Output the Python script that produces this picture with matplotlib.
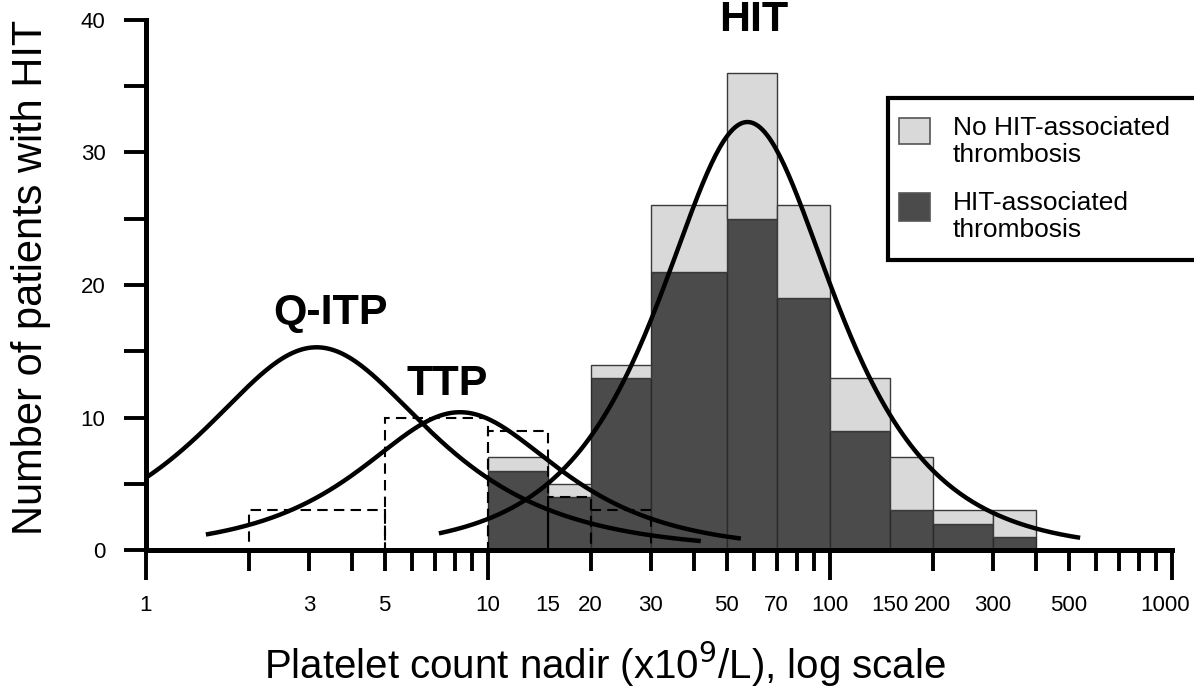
import numpy as np
import matplotlib
matplotlib.use('Agg')
import matplotlib.pyplot as plt
from matplotlib.patches import Rectangle

plt.rcParams['font.family'] = ['Liberation Sans', 'DejaVu Sans']

# HIT histogram (platelet count nadir bins, x10^9/L)
bin_edges = [10, 15, 20, 30, 50, 70, 100, 150, 200, 300, 400]
with_thrombosis = [6, 4, 13, 21, 25, 19, 9, 3, 2, 1]
without_thrombosis = [1, 1, 1, 5, 11, 7, 4, 4, 1, 2]

# TTP histogram (dashed outline)
ttp_edges = [2, 5, 10, 15, 20, 30]
ttp_counts = [3, 10, 9, 4, 3]

# fitted curves: name, peak height, peak position, width (log10 units), x range
curve_names = ['Q-ITP', 'TTP', 'HIT']
curve_peak = [15.3, 10.4, 32.3]
curve_center = [3.16, 8.3, 57.5]
curve_width = [0.295, 0.2585, 0.229]
curve_from = [1.0, 1.5, 7.2]
curve_to = [42, 55, 540]
label_pos = [(3.47, 17.9), (7.62, 12.5), (60, 40.0)]

major_x = [1, 10, 100, 1000]
major_labels = ['1', '10', '100', '']
minor_x = [2, 3, 4, 5, 6, 7, 8, 9, 15, 20, 30, 40, 50, 60, 70, 80, 90,
           150, 200, 300, 400, 500, 600, 700, 800, 900]
minor_labels = ['', '3', '', '5', '', '', '', '', '15', '20', '30', '', '50', '', '70', '', '',
                '150', '200', '300', '', '500', '', '', '', '']
untick_x = [15, 150]

light = '#d9d9d9'
dark = '#4b4b4b'


def sech_curve(x, peak, center, width):
    u = (np.log10(x) - np.log10(center)) / width
    return peak / np.cosh(u)


fig = plt.figure(figsize=(11.94, 6.89), dpi=100)
ax = fig.add_axes([0.122, 0.2017, 0.8593, 0.7693])
ax.set_xscale('log')

left = np.array(bin_edges[:-1])
widths = np.diff(bin_edges)
ax.bar(left, with_thrombosis, width=widths, align='edge', color=dark,
       edgecolor='#2a2a2a', linewidth=1, zorder=2)
ax.bar(left, without_thrombosis, width=widths, bottom=with_thrombosis, align='edge',
       color=light, edgecolor='#3a3a3a', linewidth=1, zorder=2)

ax.bar(ttp_edges[:-1], ttp_counts, width=np.diff(ttp_edges), align='edge',
       fill=False, edgecolor='black', linewidth=1.5, linestyle=(0, (5, 3)), zorder=3)

for i, name in enumerate(curve_names):
    xs = np.logspace(np.log10(curve_from[i]), np.log10(curve_to[i]), 300)
    ax.plot(xs, sech_curve(xs, curve_peak[i], curve_center[i], curve_width[i]),
            color='black', linewidth=3.2, solid_capstyle='butt', zorder=4)
    ax.text(label_pos[i][0], label_pos[i][1], name, fontsize=31, fontweight='bold',
            ha='center', va='center', zorder=5, clip_on=False)

ax.set_xlim(1, 1000)
ax.set_ylim(0, 40)
for s in ['top', 'right']:
    ax.spines[s].set_visible(False)
for s in ['left', 'bottom']:
    ax.spines[s].set_linewidth(3.6)

ax.set_xticks(major_x)
ax.set_xticklabels(major_labels)
ax.set_xticks(minor_x, minor=True)
ax.set_xticklabels(minor_labels, minor=True)
ax.tick_params(axis='x', which='major', direction='out', length=21.6, width=2.8,
               pad=11, labelsize=16)
ax.tick_params(axis='x', which='minor', direction='out', length=15.1, width=2.8,
               pad=17.4, labelsize=16)
for t in ax.xaxis.get_minor_ticks():
    if t.get_loc() in untick_x:
        t.tick1line.set_markersize(0)
# last label sits a little left of its tick, as in the original
ax.annotate('1000', xy=(major_x[-1], 0), xycoords=('data', 'axes fraction'),
            xytext=(-5, -32.6), textcoords='offset points',
            ha='center', va='top', fontsize=16, annotation_clip=False)

ax.set_yticks([0, 10, 20, 30, 40])
ax.set_yticks([5, 15, 25, 35], minor=True)
ax.tick_params(axis='y', which='both', direction='out', length=16, width=2.8,
               pad=13, labelsize=16)

ax.set_xlabel('Platelet count nadir (x10$^{9}$/L), log scale', fontsize=29)
ax.xaxis.set_label_coords(0.448, -0.17)
ax.set_ylabel('Number of patients with HIT', fontsize=30)
ax.yaxis.set_label_coords(-0.092, 0.515)

# legend box, drawn by hand so the swatches line up with the first text line
W, H = 1194.0, 689.0
fig.patches.append(Rectangle((888 / W, 1 - 260 / H), 330 / W, 162 / H,
                             transform=fig.transFigure, facecolor='white',
                             edgecolor='black', linewidth=3, clip_on=False))
fig.patches.append(Rectangle((899 / W, 1 - 144 / H), 31 / W, 26 / H,
                             transform=fig.transFigure, facecolor=light,
                             edgecolor='#555555', linewidth=1.2))
fig.patches.append(Rectangle((899 / W, 1 - 221 / H), 31 / W, 28 / H,
                             transform=fig.transFigure, facecolor=dark,
                             edgecolor='#555555', linewidth=1.2))
fig.text(953 / W, 1 - 116 / H, 'No HIT-associated\nthrombosis', fontsize=19,
         va='top', ha='left', linespacing=1.15)
fig.text(953 / W, 1 - 191 / H, 'HIT-associated\nthrombosis', fontsize=19,
         va='top', ha='left', linespacing=1.15)

fig.savefig('out.png', dpi=100)
